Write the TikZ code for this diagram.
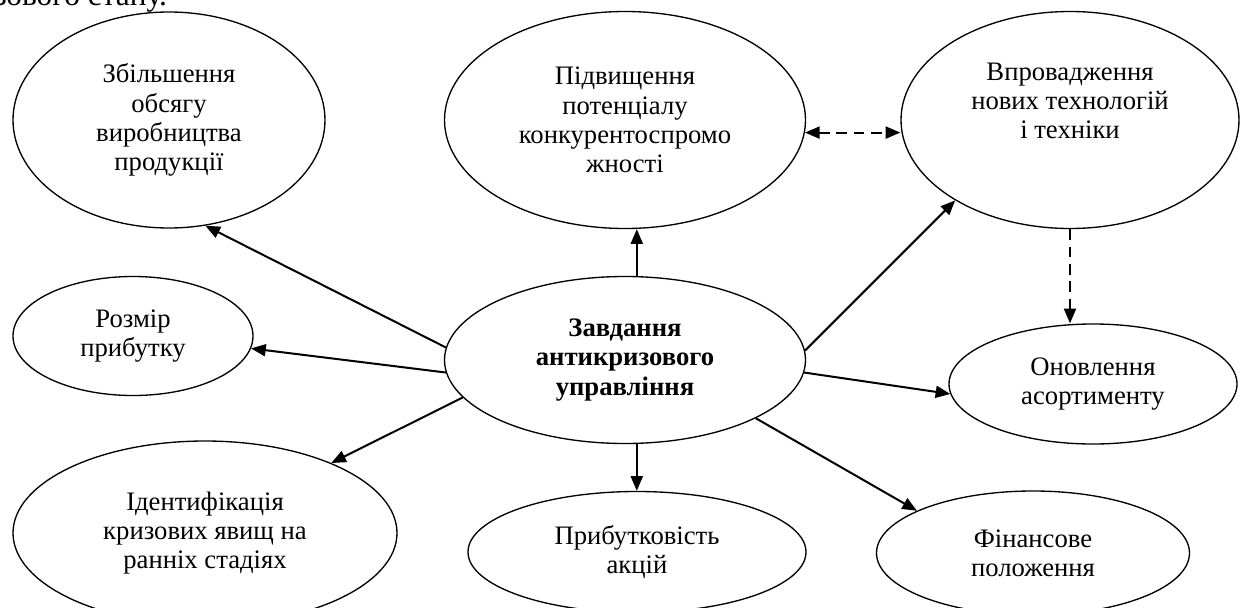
\documentclass[tikz,border=0pt]{standalone}
\usepackage{fontspec}
\setmainfont{Liberation Serif}
\usetikzlibrary{shapes.geometric,arrows.meta}
\begin{document}
\begin{tikzpicture}[x=0.75pt,y=-0.75pt,
    >={Triangle[length=11pt,width=9pt]},
    ell/.style={draw,ellipse,line width=1pt,inner sep=0pt,align=center,
      font=\fontsize{20}{21.9}\selectfont},
    arr/.style={line width=1.5pt,->},
    dsh/.style={line width=1.5pt,dash pattern=on 8pt off 5pt}]
    \useasboundingbox (0,0) rectangle (1246,607);
    \clip (0,0) rectangle (1246,607);
    % cut line of the page text
    \node[anchor=base west,inner sep=0pt,font=\fontsize{23.5}{26}\selectfont] (top) at (-6,5) {зового стану.};
    % ellipses
    \node[ell,minimum width=234pt,minimum height=162pt] (z) at (169,120) {Збільшення\\обсягу\\виробництва\\продукції};
    \node[ell,minimum width=270.75pt,minimum height=162.75pt] (p) at (625,120) {Підвищення\\потенціалу\\конкурентоспромо\\жності};
    \node[ell,minimum width=253.5pt,minimum height=162.75pt] (v) at (1070,120) {Впровадження\\нових технологій\\і техніки\\ \strut};
    \node[ell,minimum width=180pt,minimum height=89.25pt] (r) at (133,336) {Розмір\\прибутку};
    \node[ell,minimum width=270.75pt,minimum height=125.25pt] (c) at (625,360) {\textbf{Завдання}\\\textbf{антикризового}\\\textbf{управління}};
    \node[ell,minimum width=216pt,minimum height=90pt] (o) at (1093,384) {Оновлення\\асортименту};
    \node[ell,minimum width=288pt,minimum height=138pt] (i) at (205,533) {Ідентифікація\\кризових явищ на\\ранніх стадіях};
    \node[ell,minimum width=253.5pt,minimum height=90.75pt] (b) at (637,552) {Прибутковість\\акцій};
    \node[ell,minimum width=234.75pt,minimum height=93pt] (f) at (1033,553) {Фінансове\\положення};
    % arrows
    \draw[arr] (c.176) -- (z.289);
    \draw[arr] (c.184) -- (r.354);
    \draw[arr] (c.193) -- (i.29);
    \draw[arr] (c.82) -- (c.82 |- p.south);
    \draw[arr] (c.278) -- (c.278 |- b.north);
    \draw[arr] (c.3) -- (v.215);
    \draw[arr] (c.356) -- (o.184);
    \draw[arr] (c.336) -- (f.160);
    \draw[dsh,<->] (p.356) -- (p.356 -| v.west);
    \draw[dsh,->] (v.south) -- (v.south |- o.north);
\end{tikzpicture}
\end{document}
